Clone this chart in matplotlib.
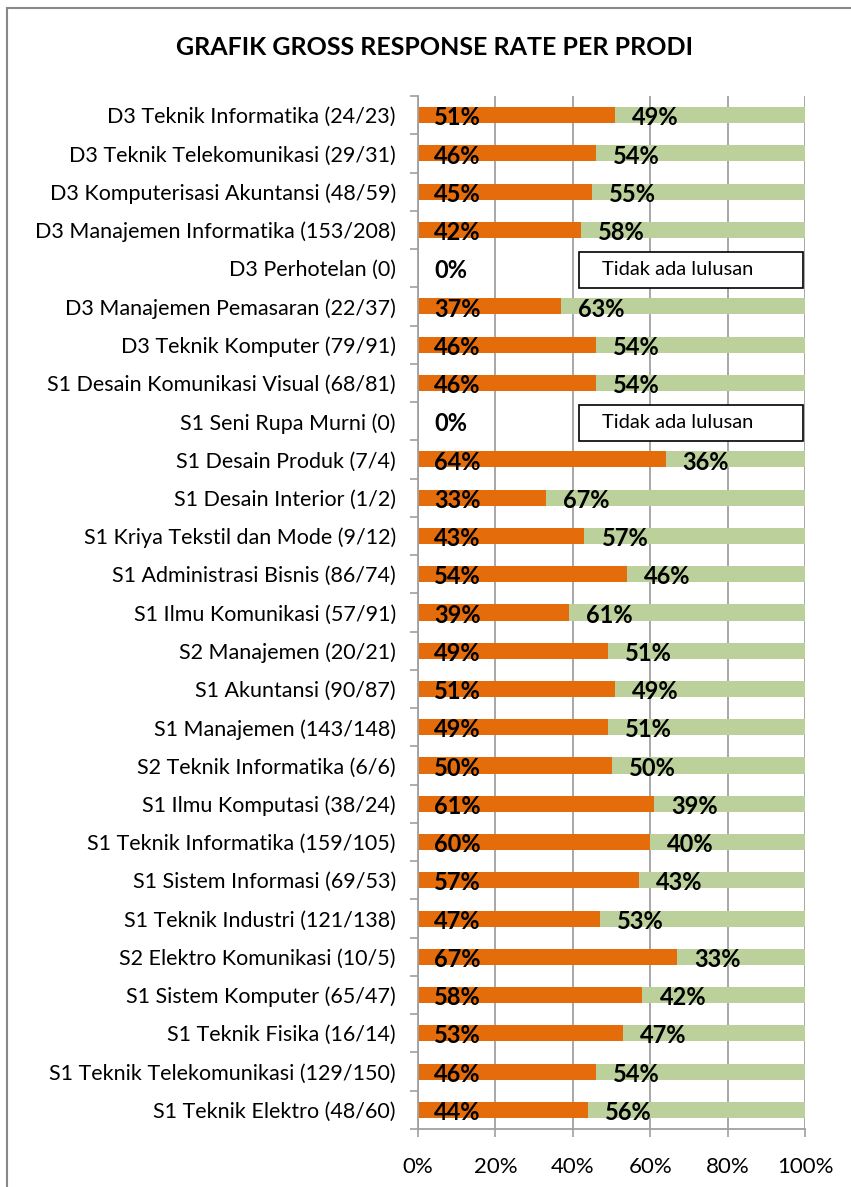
import numpy as np
import matplotlib.pyplot as plt
from matplotlib.patches import Rectangle

plt.rcParams['font.family'] = ['Lato', 'DejaVu Sans']

# program names (top to bottom) and share that responded, in percent
prodi = [
    'D3 Teknik Informatika (24/23)',
    'D3 Teknik Telekomunikasi (29/31)',
    'D3 Komputerisasi Akuntansi (48/59)',
    'D3 Manajemen Informatika (153/208)',
    'D3 Perhotelan (0)',
    'D3 Manajemen Pemasaran (22/37)',
    'D3 Teknik Komputer (79/91)',
    'S1 Desain Komunikasi Visual (68/81)',
    'S1 Seni Rupa Murni (0)',
    'S1 Desain Produk (7/4)',
    'S1 Desain Interior (1/2)',
    'S1 Kriya Tekstil dan Mode (9/12)',
    'S1 Administrasi Bisnis (86/74)',
    'S1 Ilmu Komunikasi (57/91)',
    'S2 Manajemen (20/21)',
    'S1 Akuntansi (90/87)',
    'S1 Manajemen (143/148)',
    'S2 Teknik Informatika (6/6)',
    'S1 Ilmu Komputasi (38/24)',
    'S1 Teknik Informatika (159/105)',
    'S1 Sistem Informasi (69/53)',
    'S1 Teknik Industri (121/138)',
    'S2 Elektro Komunikasi (10/5)',
    'S1 Sistem Komputer (65/47)',
    'S1 Teknik Fisika (16/14)',
    'S1 Teknik Telekomunikasi (129/150)',
    'S1 Teknik Elektro (48/60)',
]
respon = [51, 46, 45, 42, 0, 37, 46, 46, 0, 64, 33, 43, 54, 39, 49,
          51, 49, 50, 61, 60, 57, 47, 67, 58, 53, 46, 44]
sisa = [49, 54, 55, 58, 0, 63, 54, 54, 0, 36, 67, 57, 46, 61, 51,
        49, 51, 50, 39, 40, 43, 53, 33, 42, 47, 54, 56]
tidak_ada = ['D3 Perhotelan (0)', 'S1 Seni Rupa Murni (0)']

orange = '#E46C0A'
green = '#BBD09A'
grid_c = '#A0A0A0'

fig = plt.figure(figsize=(8.51, 11.87), dpi=100)
ax = fig.add_axes([0.4912, 0.0489, 0.4548, 0.8702])

y = np.arange(len(prodi))
r = np.array(respon)
s = np.array(sisa)
ax.barh(y, r, height=0.42, color=orange, zorder=2)
ax.barh(y, s, left=r, height=0.42, color=green, zorder=2)

for i in range(len(prodi)):
    ax.text(4.2, y[i] + 0.07, f'{respon[i]}%', ha='left', va='center',
            fontsize=17, fontweight='bold', color='black', zorder=4)
    if sisa[i] > 0:
        ax.text(respon[i] + 4.4, y[i] + 0.07, f'{sisa[i]}%', ha='left',
                va='center', fontsize=17, fontweight='bold', color='black', zorder=4)
    if prodi[i] in tidak_ada:
        ax.add_patch(Rectangle((41.6, y[i] - 0.42), 57.9, 0.94, facecolor='white',
                               edgecolor='black', linewidth=1.2, zorder=3))
        ax.text(47.5, y[i] + 0.04, 'Tidak ada lulusan', ha='left', va='center',
                fontsize=14.5, zorder=4)

ax.set_xlim(0, 100)
ax.set_ylim(len(prodi) - 0.5, -0.5)
ax.set_xticks([0, 20, 40, 60, 80, 100])
ax.set_xticklabels(['0%', '20%', '40%', '60%', '80%', '100%'], fontsize=16)
ax.set_yticks(y)
ax.set_yticklabels(prodi, fontsize=15.5)
ax.set_yticks(np.arange(len(prodi) + 1) - 0.5, minor=True)
ax.tick_params(axis='y', which='major', length=0, pad=16)
ax.tick_params(axis='y', which='minor', length=6, width=1.2, color=grid_c)
ax.tick_params(axis='x', length=6, width=1.2, color=grid_c, pad=14)
ax.grid(axis='x', color=grid_c, linewidth=1.3, zorder=0)
ax.set_axisbelow(True)
for side in ['top', 'right']:
    ax.spines[side].set_visible(False)
for side in ['left', 'bottom']:
    ax.spines[side].set_color(grid_c)
    ax.spines[side].set_linewidth(1.3)

fig.text(0.511, 0.960, 'GRAFIK GROSS RESPONSE RATE PER PRODI', ha='center',
         va='center', fontsize=18, fontweight='bold')

# outer chart frame
fig.add_artist(Rectangle((0.0085, -0.05), 1.2, 1.043, transform=fig.transFigure,
                         facecolor='none', edgecolor='#888888', linewidth=1.5))

fig.savefig('out.png', dpi=100)
